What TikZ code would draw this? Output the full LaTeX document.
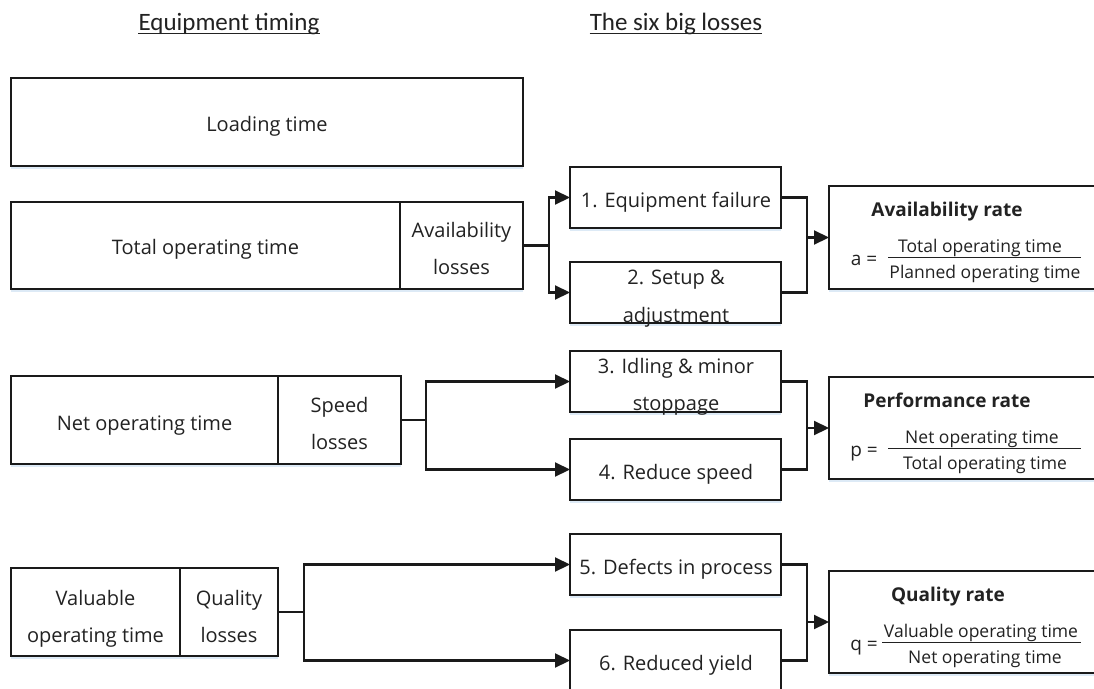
\documentclass[tikz,border=0pt]{standalone}
\usepackage{fontspec}
\setmainfont{Open Sans}
\newfontfamily\headfont{Carlito}
\usetikzlibrary{arrows.meta,shadows}
\definecolor{ink}{HTML}{1A1A1A}
\definecolor{txt}{HTML}{222222}
\definecolor{glow}{HTML}{9EC3E6}

\begin{document}
\begin{tikzpicture}[x=1pt,y=-1pt,
  box/.style={draw=ink, line width=2.1pt, fill=white, inner sep=0pt, outer sep=0pt,
    drop shadow={shadow xshift=0pt, shadow yshift=-2.5pt, fill=glow, opacity=0.35}},
  conn/.style={draw=ink, line width=2.1pt, line join=miter},
  arr/.style={conn, -{Triangle[length=15pt,width=14pt]}},
  body/.style={font=\fontsize{20}{24}\selectfont, text=txt, inner sep=0pt, anchor=base},
  head/.style={font=\headfont\fontsize{25}{30}\selectfont, text=txt, inner sep=0pt, anchor=base},
  ratetitle/.style={font=\bfseries\fontsize{19}{23}\selectfont, text=txt, inner sep=0pt, anchor=base},
  fracpart/.style={font=\fontsize{17.5}{21}\selectfont, text=txt, inner sep=0pt, anchor=base},
  eqsign/.style={font=\fontsize{19}{23}\selectfont, text=txt, inner sep=0pt, anchor=base},
  uline/.style={draw=txt, line width=1pt},
  bar/.style={draw=txt, line width=1.4pt}
]
\useasboundingbox (0,0) rectangle (1094,688);
\fill[white] (0,0) rectangle (1094,688);
\clip (0,0) rectangle (1094,688);

% column headings
\node[head] (h1) at (229,30) {Equipment timing};
\draw[uline] ([yshift=-3pt]h1.base west) -- ([yshift=-3pt]h1.base east);
\node[head] (h2) at (676,30) {The six big losses};
\draw[uline] ([yshift=-3pt]h2.base west) -- ([yshift=-3pt]h2.base east);

% equipment timing bars
\node[box, minimum width=512pt, minimum height=88pt] (load) at (267,122) {};
\node[box, minimum width=389pt, minimum height=87pt] (tot) at (205.5,245.5) {};
\node[box, minimum width=123pt, minimum height=87pt] (avl) at (461.5,245.5) {};
\node[box, minimum width=267pt, minimum height=88pt] (net) at (144.5,420) {};
\node[box, minimum width=123pt, minimum height=88pt] (spd) at (339.5,420) {};
\node[box, minimum width=169pt, minimum height=88pt] (val) at (95.5,612) {};
\node[box, minimum width=98pt, minimum height=88pt] (qul) at (229,612) {};

\node[body] (loadT) at (267,131) {Loading time};
\node[body] (totT) at (205.5,254.5) {Total operating time};
\node[body] (avlA) at (461.5,237) {Availability};
\node[body] (avlB) at (461.5,274) {losses};
\node[body] (netT) at (144.5,430) {Net operating time};
\node[body] (spdA) at (339.5,412) {Speed};
\node[body] (spdB) at (339.5,449) {losses};
\node[body] (valA) at (95.5,605) {Valuable};
\node[body] (valB) at (95.5,642) {operating time};
\node[body] (qulA) at (229,605) {Quality};
\node[body] (qulB) at (229,642) {losses};

% the six big losses
\node[box, minimum width=211pt, minimum height=61pt] (b1) at (675.5,197.5) {};
\node[box, minimum width=211pt, minimum height=61pt] (b2) at (675.5,292.5) {};
\node[box, minimum width=211pt, minimum height=61pt] (b3) at (675.5,381.5) {};
\node[box, minimum width=211pt, minimum height=61pt] (b4) at (675.5,469.5) {};
\node[box, minimum width=211pt, minimum height=61pt] (b5) at (675.5,564.5) {};
\node[box, minimum width=211pt, minimum height=61pt] (b6) at (675.5,660.5) {};

\node[body] (b1T) at (676,207.5) {1. Equipment failure};
\node[body] (b2A) at (676,284) {2. Setup \&};
\node[body] (b2B) at (676,322) {adjustment};
\node[body] (b3A) at (676,373) {3. Idling \& minor};
\node[body] (b3B) at (676,410.5) {stoppage};
\node[body] (b4T) at (676,479.5) {4. Reduce speed};
\node[body] (b5T) at (676,574.5) {5. Defects in process};
\node[body] (b6T) at (676,670.5) {6. Reduced yield};

% rate boxes
\node[box, minimum width=275pt, minimum height=103pt] (r1) at (966.5,237.5) {};
\node[box, minimum width=275pt, minimum height=102pt] (r2) at (966.5,428) {};
\node[box, minimum width=275pt, minimum height=102pt] (r3) at (966.5,622) {};

\node[ratetitle] (r1T) at (947,216) {Availability rate};
\node[eqsign] (r1E) at (864,265) {a =};
\node[fracpart] (r1N) at (980,252) {Total operating time};
\node[fracpart] (r1D) at (985,278) {Planned operating time};
\draw[bar] (888,257.5) -- (1081,257.5);

\node[ratetitle] (r2T) at (947,407) {Performance rate};
\node[eqsign] (r2E) at (864,456) {p =};
\node[fracpart] (r2N) at (982,443) {Net operating time};
\node[fracpart] (r2D) at (985,469) {Total operating time};
\draw[bar] (888,448.5) -- (1081,448.5);

\node[ratetitle] (r3T) at (948,601) {Quality rate};
\node[eqsign] (r3E) at (864,650) {q =};
\node[fracpart] (r3N) at (981,637) {Valuable operating time};
\node[fracpart] (r3D) at (985,663) {Net operating time};
\draw[bar] (882,642.5) -- (1081,642.5);

% branch points and merge points
\coordinate (ba) at (549,245.5);
\coordinate (bs) at (426,420);
\coordinate (bq) at (304,612);
\coordinate (ma) at (807,245);
\coordinate (mp) at (807,425);
\coordinate (mq) at (807,612);

% losses split into the six big losses
\draw[conn] (avl.east) -- (ba);
\draw[arr] (ba) |- (b1.west);
\draw[arr] (ba) |- (b2.west);
\draw[conn] (spd.east) -- (bs);
\draw[arr] (bs) |- (b3.west);
\draw[arr] (bs) |- (b4.west);
\draw[conn] (qul.east) -- (bq);
\draw[arr] (bq) |- (b5.west);
\draw[arr] (bq) |- (b6.west);

% losses grouped into the rates
\draw[conn] (b1.east) -| (ma) |- (b2.east);
\draw[arr] (r1.west -| ma) -- (r1.west);
\draw[conn] (b3.east) -| (mp) |- (b4.east);
\draw[arr] (r2.west -| mp) -- (r2.west);
\draw[conn] (b5.east) -| (mq) |- (b6.east);
\draw[arr] (r3.west -| mq) -- (r3.west);
\end{tikzpicture}
\end{document}
